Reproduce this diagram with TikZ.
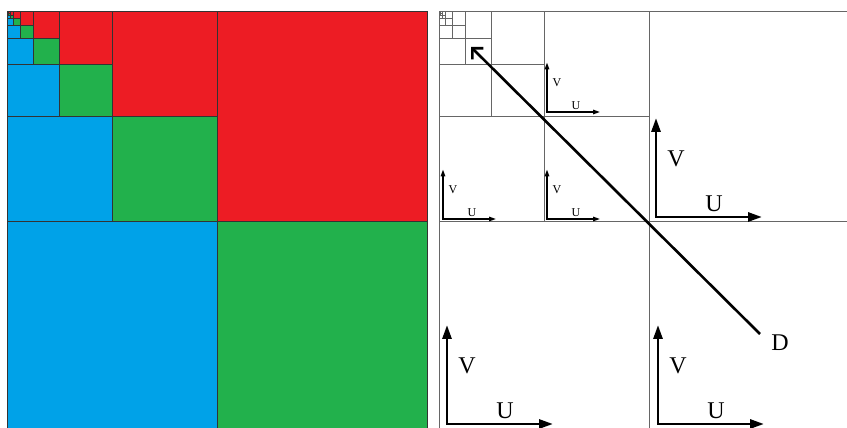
\documentclass[tikz,border=0pt]{standalone}
\usepackage{fontspec}
\setmainfont{Liberation Serif}
\usetikzlibrary{arrows.meta}

\definecolor{quadred}{HTML}{ED1C24}
\definecolor{quadgreen}{HTML}{22B14C}
\definecolor{quadblue}{HTML}{00A2E8}

\begin{document}
\begin{tikzpicture}[
    x=1pt, y=1pt,
    cell/.style={draw=black!80, line width=1pt},
    grid/.style={draw=black!60, line width=1pt},
    dir/.style={line width=2.6pt, -{Straight Barb[angle=90:11pt, sharp]}},
  ]

  % ---- frame ---------------------------------------------------------
  \useasboundingbox (0,0) rectangle (847,428);
  \clip (0,0) rectangle (847,428);

  % ---- geometry ------------------------------------------------------
  \def\side{420}     % full square
  \def\xl{7}         % left panel, left edge
  \def\xr{439}       % right panel, left edge
  \def\ytop{416}     % top edge of both panels

  % ---- left panel: coloured quadtree ---------------------------------
  \foreach \k in {0,...,8}{
    \pgfmathsetmacro{\h}{\side/2^(\k+1)}
    \path[cell, fill=quadred]   (\xl+\h,\ytop)    rectangle ++(\h,-\h);
    \path[cell, fill=quadblue]  (\xl,\ytop-\h)    rectangle ++(\h,-\h);
    \path[cell, fill=quadgreen] (\xl+\h,\ytop-\h) rectangle ++(\h,-\h);
  }

  % ---- right panel: grid ---------------------------------------------
  \foreach \k in {0,...,8}{
    \pgfmathsetmacro{\s}{\side/2^\k}
    \draw[grid] (\xr,\ytop) rectangle ++(\s,-\s);
    \draw[grid] (\xr+\s/2,\ytop) -- ++(0,-\s);
    \draw[grid] (\xr,\ytop-\s/2) -- ++(\s,0);
  }

  % ---- U/V axes in each quadrant -------------------------------------
  \foreach \nm/\ox/\oy/\sc in {tr/656/211/1, bl/447/4/1, br/658/4/1,
                               ml/443/209/0.5, mr/547/209/0.5, tm/547/316/0.5}{
    \pgfmathsetmacro{\vlen}{99*\sc}
    \pgfmathsetmacro{\ulen}{106*\sc}
    \pgfmathsetmacro{\tl}{14*\sc}
    \pgfmathsetmacro{\tw}{9*\sc}
    \pgfmathsetmacro{\lw}{2.8*\sc}
    \pgfmathsetmacro{\fs}{24*\sc}
    \coordinate (O-\nm) at (\ox,\oy);
    \coordinate (V-\nm) at (\ox,\oy+\vlen);
    \coordinate (U-\nm) at (\ox+\ulen,\oy);
    \draw[line width=\lw pt, line join=miter,
          {Triangle[length=\tl pt,width=\tw pt]}-{Triangle[length=\tl pt,width=\tw pt]}]
      (V-\nm) |- (U-\nm);
    \node[font=\fontsize{\fs}{\fs}\selectfont] (Vlab-\nm) at (\ox+20*\sc,\oy+58*\sc) {V};
    \node[font=\fontsize{\fs}{\fs}\selectfont] (Ulab-\nm) at (\ox+58*\sc,\oy+13*\sc) {U};
  }

  % ---- diagonal direction D ------------------------------------------
  \coordinate (D-start) at (760,94);
  \coordinate (D-tip) at (471,381);
  \draw[dir] (D-start) -- (D-tip);
  \node[font=\fontsize{24}{24}\selectfont] (D) at (780,85) {D};

\end{tikzpicture}
\end{document}
